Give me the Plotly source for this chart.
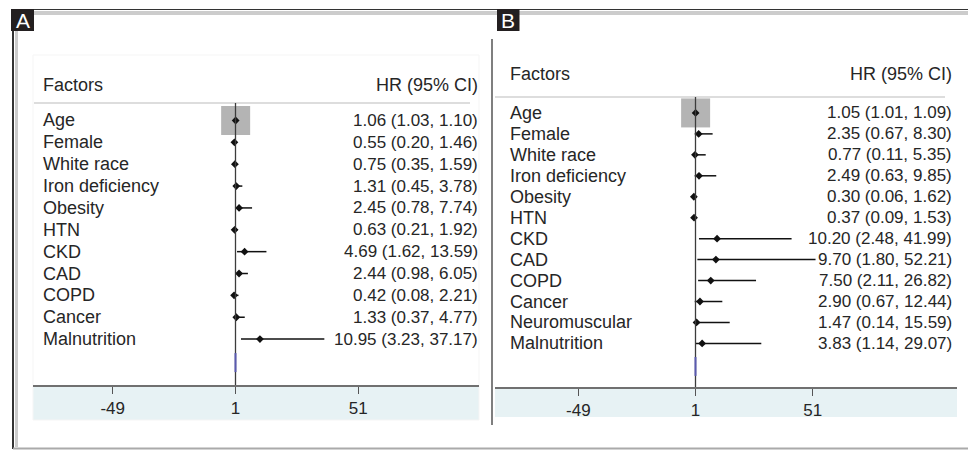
import plotly.graph_objects as go

# ---------------- data ----------------
factors_A = ["Age", "Female", "White race", "Iron deficiency", "Obesity", "HTN",
             "CKD", "CAD", "COPD", "Cancer", "Malnutrition"]
hr_A = [1.06, 0.55, 0.75, 1.31, 2.45, 0.63, 4.69, 2.44, 0.42, 1.33, 10.95]
lo_A = [1.03, 0.20, 0.35, 0.45, 0.78, 0.21, 1.62, 0.98, 0.08, 0.37, 3.23]
hi_A = [1.10, 1.46, 1.59, 3.78, 7.74, 1.92, 13.59, 6.05, 2.21, 4.77, 37.17]

factors_B = ["Age", "Female", "White race", "Iron deficiency", "Obesity", "HTN",
             "CKD", "CAD", "COPD", "Cancer", "Neuromuscular", "Malnutrition"]
hr_B = [1.05, 2.35, 0.77, 2.49, 0.30, 0.37, 10.20, 9.70, 7.50, 2.90, 1.47, 3.83]
lo_B = [1.01, 0.67, 0.11, 0.63, 0.06, 0.09, 2.48, 1.80, 2.11, 0.67, 0.14, 1.14]
hi_B = [1.09, 8.30, 5.35, 9.85, 1.62, 1.53, 41.99, 52.21, 26.82, 12.44, 15.59, 29.07]

tick_vals = [-49, 1, 51]
tick_text = ["-49", "1", "51"]
null_value = 1

# ---------------- layout helpers ----------------
W, H = 968, 450
FONT = "Liberation Sans, Arial, Helvetica, sans-serif"
TXT = "#262626"
LAB_SIZE = 18
VAL_SIZE = 17


def px(x):
    return x / W


def py(y):
    return 1 - y / H


def ci_label(h, l, u):
    return f"{h:.2f} ({l:.2f}, {u:.2f})"


fig = go.Figure()


def add_panel(factors, hr, lo, hi, xa, ya, lshift, rshift):
    rows = list(range(len(factors)))
    # weight box (only visible for the precise first estimate)
    fig.add_trace(go.Scatter(
        x=[hr[0]], y=[rows[0]], mode="markers", xaxis=xa, yaxis=ya,
        marker=dict(symbol="square", size=29, color="#b4b4b4", line=dict(width=0)),
        hoverinfo="skip", showlegend=False))
    fig.add_trace(go.Scatter(
        x=hr, y=rows, mode="markers", xaxis=xa, yaxis=ya,
        marker=dict(symbol="diamond", size=6, color="#111111"),
        error_x=dict(type="data", symmetric=False,
                     array=[u - h for u, h in zip(hi, hr)],
                     arrayminus=[h - l for h, l in zip(hr, lo)],
                     width=0, thickness=1.5, color="#111111"),
        showlegend=False))
    xd = xa + " domain"
    for r, f, h, l, u in zip(rows, factors, hr, lo, hi):
        fig.add_annotation(x=0.0, xref=xd, y=r, yref=ya,
                           text=f, showarrow=False, xanchor="left", yanchor="middle",
                           xshift=lshift,
                           font=dict(family=FONT, size=LAB_SIZE, color=TXT))
        fig.add_annotation(x=1.0, xref=xd, y=r, yref=ya,
                           text=ci_label(h, l, u), showarrow=False, xanchor="right",
                           yanchor="middle", xshift=rshift,
                           font=dict(family=FONT, size=VAL_SIZE, color=TXT))


add_panel(factors_A, hr_A, lo_A, hi_A, "x", "y", 8, 1)
add_panel(factors_B, hr_B, lo_B, hi_B, "x2", "y2", 13, -3)

axis_common = dict(tickvals=tick_vals, ticktext=tick_text, ticks="outside", ticklen=7,
                   tickwidth=1.5, tickcolor="#555555", showline=True,
                   linecolor="#707070", linewidth=2, showgrid=False, zeroline=False,
                   tickfont=dict(family=FONT, size=17, color=TXT), fixedrange=True)

fig.update_layout(
    width=W, height=H, margin=dict(l=0, r=0, t=0, b=0),
    paper_bgcolor="white", plot_bgcolor="rgba(0,0,0,0)",
    showlegend=False,
    xaxis=dict(domain=[px(33), px(479)], range=[-81.45, 100.14], anchor="y", **axis_common),
    yaxis=dict(domain=[py(385), py(103)], range=[12.10, -0.80], visible=False, anchor="x",
               fixedrange=True),
    xaxis2=dict(domain=[px(495), px(957)], range=[-84.54, 112.56], anchor="y2", **axis_common),
    yaxis2=dict(domain=[py(387), py(97)], range=[13.08, -0.76], visible=False, anchor="x2",
                fixedrange=True),
)

shapes = []
# shaded axis bands
shapes.append(dict(type="rect", xref="paper", yref="paper", x0=px(33), x1=px(479),
                   y0=py(420), y1=py(385), fillcolor="#e7f2f4", line=dict(width=0), layer="below"))
shapes.append(dict(type="rect", xref="paper", yref="paper", x0=px(495), x1=px(957),
                   y0=py(417), y1=py(387), fillcolor="#e7f2f4", line=dict(width=0), layer="below"))
# faint panel border A
shapes.append(dict(type="rect", xref="paper", yref="paper", x0=px(33), x1=px(479),
                   y0=py(420), y1=py(55), line=dict(color="#f5f5f5", width=1), layer="below"))
# header separators
shapes.append(dict(type="line", xref="paper", yref="paper", x0=px(34), x1=px(470),
                   y0=py(103), y1=py(103), line=dict(color="#dddddd", width=2)))
shapes.append(dict(type="line", xref="paper", yref="paper", x0=px(495), x1=px(945),
                   y0=py(97), y1=py(97), line=dict(color="#dddddd", width=2)))
# reference (null) lines
for xa, ya in [("x", "y"), ("x2", "y2")]:
    shapes.append(dict(type="line", xref=xa, yref=ya + " domain",
                       x0=null_value, x1=null_value, y0=0, y1=1,
                       line=dict(color="#3c3c3c", width=1.3), layer="above"))
# small blue segments on null line
shapes.append(dict(type="line", xref="x", yref="y", x0=null_value, x1=null_value,
                   y0=10.64, y1=11.51, line=dict(color="#5a5ab0", width=2)))
shapes.append(dict(type="line", xref="x2", yref="y2", x0=null_value, x1=null_value,
                   y0=11.65, y1=12.55, line=dict(color="#5a5ab0", width=2)))
# outer frame
shapes.append(dict(type="rect", xref="paper", yref="paper", x0=px(34), x1=px(968),
                   y0=py(15), y1=py(11), fillcolor="#cccccc", line=dict(width=0)))
shapes.append(dict(type="line", xref="paper", yref="paper", x0=px(11), x1=px(968),
                   y0=py(9.5), y1=py(9.5), line=dict(color="#333333", width=1.2)))
shapes.append(dict(type="rect", xref="paper", yref="paper", x0=px(15), x1=px(18),
                   y0=py(447), y1=py(31), fillcolor="#cccccc", line=dict(width=0)))
shapes.append(dict(type="line", xref="paper", yref="paper", x0=px(13), x1=px(13),
                   y0=py(449), y1=py(9.5), line=dict(color="#333333", width=2)))
shapes.append(dict(type="line", xref="paper", yref="paper", x0=px(13), x1=px(968),
                   y0=py(448.5), y1=py(448.5), line=dict(color="#aaaaaa", width=2)))
# panel B divider
shapes.append(dict(type="line", xref="paper", yref="paper", x0=px(492), x1=px(492),
                   y0=py(425), y1=py(39), line=dict(color="#555555", width=1.5)))
# panel letter boxes
shapes.append(dict(type="rect", xref="paper", yref="paper", x0=px(11), x1=px(34),
                   y0=py(31), y1=py(9), fillcolor="#231f20", line=dict(width=0)))
shapes.append(dict(type="rect", xref="paper", yref="paper", x0=px(497), x1=px(519.5),
                   y0=py(31), y1=py(9), fillcolor="#231f20", line=dict(width=0)))
fig.update_layout(shapes=shapes)

# headers and panel letters
for xd, hy, lx_shift, rx_shift in [("x domain", 85, 8, 1), ("x2 domain", 74, 13, -3)]:
    fig.add_annotation(x=0, xref=xd, y=py(hy), yref="paper", text="Factors", showarrow=False,
                       xanchor="left", yanchor="middle", xshift=lx_shift,
                       font=dict(family=FONT, size=LAB_SIZE, color=TXT))
    fig.add_annotation(x=1, xref=xd, y=py(hy), yref="paper", text="HR (95% CI)", showarrow=False,
                       xanchor="right", yanchor="middle", xshift=rx_shift,
                       font=dict(family=FONT, size=LAB_SIZE, color=TXT))
for lab, cx in [("A", 22.5), ("B", 508.2)]:
    fig.add_annotation(x=px(cx), xref="paper", y=py(20.5), yref="paper", text=lab,
                       showarrow=False, xanchor="center", yanchor="middle",
                       font=dict(family=FONT, size=21, color="white"))

fig.write_html("out.html", config={"displayModeBar": False, "staticPlot": True},
               post_script="document.body.style.margin='0';document.body.style.overflow='hidden';")
